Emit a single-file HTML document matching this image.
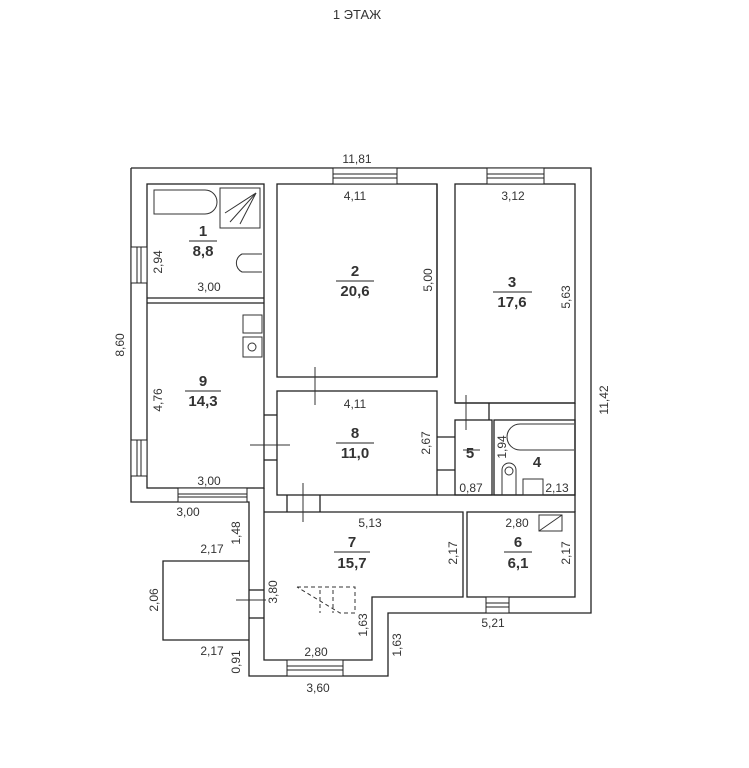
<!DOCTYPE html>
<html><head><meta charset="utf-8"><style>
html,body{margin:0;padding:0;background:#fff;width:749px;height:768px;overflow:hidden}
svg{display:block}
text{font-family:"Liberation Sans",sans-serif;fill:#333}
.d{font-size:12px;fill:#444}
.b{font-size:15px;font-weight:bold;fill:#111}
</style></head><body>
<svg width="749" height="768" viewBox="0 0 749 768" xmlns="http://www.w3.org/2000/svg">
<g fill="none" stroke="#222" stroke-width="1.3">
<!-- outer -->
<polyline points="131,168 591,168 591,613 388,613 388,676 249,676 249,502 131,502 131,168"/>
<!-- porch -->
<polyline points="249,561 163,561 163,640 249,640"/>
<!-- room 1 & 9 -->
<rect x="147" y="184" width="117" height="304"/>
<line x1="147" y1="298" x2="264" y2="298"/><line x1="147" y1="303" x2="264" y2="303"/>
<!-- room 2 -->
<rect x="277" y="184" width="160" height="193"/>
<!-- room 8 -->
<rect x="277" y="391" width="160" height="104"/>
<!-- room 3 -->
<rect x="455" y="184" width="120" height="219"/>
<!-- room 5 & 4 -->
<rect x="455" y="420" width="37" height="75"/>
<rect x="494" y="420" width="81" height="75"/>
<!-- room 7 -->
<polyline points="264,512 463,512 463,597 372,597 372,660 264,660 264,512"/>
<!-- room 6 -->
<rect x="467" y="512" width="108" height="85"/>
<!-- misc wall lines -->
<line x1="264" y1="488" x2="264" y2="512"/>
<line x1="437" y1="495" x2="575" y2="495"/>
<line x1="575" y1="403" x2="575" y2="512"/>
<line x1="437" y1="184" x2="437" y2="377"/>
<line x1="455" y1="403" x2="575" y2="403"/>
<line x1="489" y1="403" x2="489" y2="420"/>
<line x1="437" y1="437" x2="455" y2="437"/><line x1="437" y1="470" x2="455" y2="470"/>
<line x1="264" y1="415" x2="277" y2="415"/><line x1="264" y1="460" x2="277" y2="460"/>
<line x1="287" y1="495" x2="287" y2="512"/><line x1="320" y1="495" x2="320" y2="512"/>
<line x1="249" y1="590" x2="264" y2="590"/><line x1="249" y1="618" x2="264" y2="618"/>
</g>
<!-- windows -->
<g fill="#fff" stroke="#222" stroke-width="1">
<rect x="333" y="168" width="64" height="16"/><line x1="333" y1="174" x2="397" y2="174"/><line x1="333" y1="178" x2="397" y2="178"/>
<rect x="487" y="168" width="57" height="16"/><line x1="487" y1="174" x2="544" y2="174"/><line x1="487" y1="178" x2="544" y2="178"/>
<rect x="131" y="247" width="16" height="36"/><line x1="137" y1="247" x2="137" y2="283"/><line x1="141" y1="247" x2="141" y2="283"/>
<rect x="131" y="440" width="16" height="36"/><line x1="137" y1="440" x2="137" y2="476"/><line x1="141" y1="440" x2="141" y2="476"/>
<rect x="178" y="488" width="69" height="14"/><line x1="178" y1="494" x2="247" y2="494"/><line x1="178" y1="497" x2="247" y2="497"/>
<rect x="287" y="660" width="56" height="16"/><line x1="287" y1="666" x2="343" y2="666"/><line x1="287" y1="670" x2="343" y2="670"/>
<rect x="486" y="597" width="23" height="16"/><line x1="486" y1="603" x2="509" y2="603"/><line x1="486" y1="607" x2="509" y2="607"/>
</g>
<!-- fixtures -->
<g fill="none" stroke="#333" stroke-width="1">
<path d="M154,190 H205 A12,12 0 0 1 205,214 H154 Z"/>
<rect x="220" y="188" width="40" height="40"/>
<line x1="256" y1="193" x2="230" y2="222"/><line x1="256" y1="193" x2="240" y2="224"/><line x1="256" y1="193" x2="225" y2="213"/>
<path d="M262,254 H242 A10,10 0 0 0 242,272 H262"/>
<rect x="243" y="315" width="19" height="18"/><rect x="243" y="337" width="19" height="20"/><circle cx="252" cy="347" r="4"/>
<path d="M574,424 H520 A13,13 0 0 0 520,450 H574"/>
<path d="M502,495 V470 A7,7 0 0 1 516,470 V495"/><circle cx="509" cy="471" r="4"/>
<rect x="523" y="479" width="20" height="16"/>
<rect x="539" y="515" width="23" height="16"/><line x1="539" y1="531" x2="562" y2="515"/>
<g stroke-dasharray="4,3"><path d="M297,587 H355 V613 H340 L297,587"/><line x1="320" y1="590" x2="320" y2="613"/><line x1="333" y1="590" x2="333" y2="613"/></g>
<line x1="315" y1="367" x2="315" y2="405"/><line x1="466" y1="395" x2="466" y2="430"/>
<line x1="250" y1="445" x2="290" y2="445"/><line x1="303" y1="483" x2="303" y2="522"/>
<line x1="236" y1="600" x2="266" y2="600"/><line x1="463" y1="450" x2="480" y2="450"/>
</g>
<!-- labels -->
<text x="357" y="19" text-anchor="middle" style="font-size:13px">1 ЭТАЖ</text>
<g class="d" text-anchor="middle">
<text x="357" y="163">11,81</text>
<text x="355" y="200">4,11</text>
<text x="513" y="200">3,12</text>
<text x="209" y="291">3,00</text>
<text x="209" y="485">3,00</text>
<text x="188" y="516">3,00</text>
<text x="355" y="408">4,11</text>
<text x="370" y="527">5,13</text>
<text x="517" y="527">2,80</text>
<text x="212" y="553">2,17</text>
<text x="212" y="655">2,17</text>
<text x="316" y="656">2,80</text>
<text x="318" y="692">3,60</text>
<text x="493" y="627">5,21</text>
<text x="471" y="492">0,87</text>
<text x="557" y="492">2,13</text>
<text transform="translate(162,262) rotate(-90)">2,94</text>
<text transform="translate(162,400) rotate(-90)">4,76</text>
<text transform="translate(124,345) rotate(-90)">8,60</text>
<text transform="translate(432,280) rotate(-90)">5,00</text>
<text transform="translate(570,297) rotate(-90)">5,63</text>
<text transform="translate(608,400) rotate(-90)">11,42</text>
<text transform="translate(430,443) rotate(-90)">2,67</text>
<text transform="translate(506,447) rotate(-90)">1,94</text>
<text transform="translate(240,533) rotate(-90)">1,48</text>
<text transform="translate(158,600) rotate(-90)">2,06</text>
<text transform="translate(277,592) rotate(-90)">3,80</text>
<text transform="translate(240,662) rotate(-90)">0,91</text>
<text transform="translate(367,625) rotate(-90)">1,63</text>
<text transform="translate(401,645) rotate(-90)">1,63</text>
<text transform="translate(457,553) rotate(-90)">2,17</text>
<text transform="translate(570,553) rotate(-90)">2,17</text>
</g>
<g class="b" text-anchor="middle">
<text x="203" y="236">1</text><text x="203" y="256">8,8</text>
<text x="355" y="276">2</text><text x="355" y="296">20,6</text>
<text x="512" y="287">3</text><text x="512" y="307">17,6</text>
<text x="203" y="386">9</text><text x="203" y="406">14,3</text>
<text x="355" y="438">8</text><text x="355" y="458">11,0</text>
<text x="470" y="458">5</text>
<text x="537" y="467">4</text>
<text x="352" y="547">7</text><text x="352" y="568">15,7</text>
<text x="518" y="547">6</text><text x="518" y="568">6,1</text>
</g>
<g stroke="#222" stroke-width="1">
<line x1="189" y1="241" x2="217" y2="241"/>
<line x1="336" y1="281" x2="374" y2="281"/>
<line x1="493" y1="292" x2="532" y2="292"/>
<line x1="185" y1="391" x2="221" y2="391"/>
<line x1="336" y1="443" x2="374" y2="443"/>
<line x1="334" y1="552" x2="370" y2="552"/>
<line x1="504" y1="552" x2="532" y2="552"/>
</g>
</svg>
</body></html>
